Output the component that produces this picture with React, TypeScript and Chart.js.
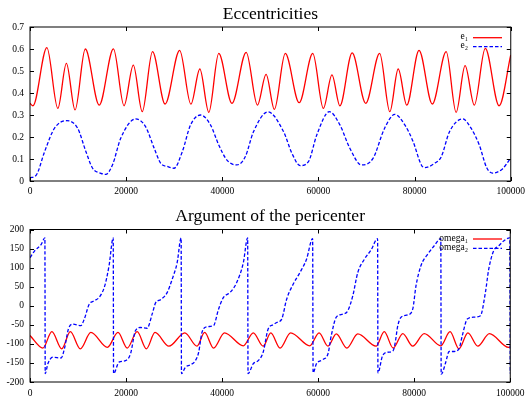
import { useEffect, useRef } from 'react';
import { Chart, registerables } from 'chart.js';

Chart.register(...registerables);

const FAMILY = "'Liberation Serif', 'Times New Roman', serif";

// ---------- tick labels ----------
const X_TICKS = [0, 20000, 40000, 60000, 80000, 100000];
const E_TICKS = [0, 0.1, 0.2, 0.3, 0.4, 0.5, 0.6, 0.7];
const W_TICKS = [-200, -150, -100, -50, 0, 50, 100, 150, 200];

// ---------- eccentricities ----------
const e1X = [0, 620, 3510, 5790, 7570, 9370, 11500, 14400, 17360, 19560, 21490, 23350, 25480, 28100, 31130, 33470, 35330, 37190, 39260, 42010, 44970, 47310, 49110, 50830, 53100, 55990, 58820, 61020, 62810, 64460, 67010, 69830, 72730, 74850, 76590, 78370, 80920, 83680, 86570, 88640, 90500, 92420, 94700, 97580, 100000];
const e1Y = [0.353, 0.342, 0.606, 0.33, 0.535, 0.323, 0.6, 0.345, 0.601, 0.342, 0.527, 0.315, 0.588, 0.35, 0.594, 0.349, 0.509, 0.312, 0.58, 0.353, 0.585, 0.345, 0.485, 0.326, 0.58, 0.356, 0.58, 0.33, 0.482, 0.342, 0.582, 0.353, 0.58, 0.315, 0.509, 0.345, 0.594, 0.35, 0.588, 0.312, 0.524, 0.345, 0.603, 0.342, 0.573];

const e2X = [0, 1300, 3030, 5100, 7640, 9900, 11640, 13020, 14740, 15770, 17150, 18870, 21970, 24040, 25830, 27200, 28580, 29960, 31680, 33400, 35470, 37540, 39260, 40980, 43040, 44770, 46490, 49500, 52750, 54480, 56200, 57920, 59650, 62260, 64460, 66530, 68940, 71350, 73760, 75900, 77960, 79690, 81400, 82090, 84150, 85540, 87260, 90020, 91740, 93450, 95000, 96200, 98280, 100000];
const e2Y = [0.015, 0.027, 0.133, 0.24, 0.274, 0.24, 0.133, 0.058, 0.035, 0.03, 0.073, 0.194, 0.282, 0.247, 0.149, 0.08, 0.066, 0.058, 0.133, 0.255, 0.3, 0.255, 0.164, 0.095, 0.073, 0.11, 0.224, 0.314, 0.224, 0.126, 0.07, 0.088, 0.209, 0.315, 0.255, 0.149, 0.073, 0.103, 0.24, 0.303, 0.255, 0.179, 0.073, 0.061, 0.08, 0.11, 0.224, 0.282, 0.24, 0.164, 0.06, 0.036, 0.055, 0.105];

// ---------- argument of the pericenter ----------
const w1X = [0, 2690, 4550, 6610, 8400, 10470, 12670, 16120, 18320, 20250, 22310, 24240, 26030, 28930, 32230, 34780, 36360, 38220, 40500, 44420, 46490, 48550, 50140, 52070, 54270, 58260, 60190, 62050, 63780, 65980, 68250, 72050, 73760, 75620, 77620, 79690, 82090, 85540, 87460, 89320, 91180, 93250, 95660, 99650, 100000];
const w1Y = [-78, -111, -68, -113, -68, -113, -70, -109, -70, -111, -68, -113, -70, -106, -71, -106, -70, -111, -71, -105, -71, -106, -71, -111, -71, -105, -71, -106, -74, -111, -74, -106, -68, -111, -73, -106, -73, -105, -68, -113, -71, -106, -73, -109, -108];

const w2X = [0, 970, 2340, 3100, 3170, 3720, 4750, 6470, 7160, 8000, 8880, 10600, 11300, 12330, 13360, 14400, 15560, 16460, 17330, 17400, 18530, 19900, 20930, 21970, 23000, 24380, 25480, 26170, 27200, 28580, 29610, 30640, 31470, 31540, 32370, 33400, 34440, 35120, 35810, 36840, 38220, 39260, 40290, 41670, 43040, 44420, 45320, 45400, 46490, 47520, 48550, 49590, 50620, 51380, 52410, 53440, 54820, 56200, 57580, 58850, 58950, 59650, 61020, 62050, 62740, 63780, 65150, 66180, 67210, 68250, 69630, 71010, 72380, 72450, 73410, 74440, 75600, 76000, 76590, 77270, 78650, 79690, 80370, 81400, 82790, 84150, 85540, 85620, 86570, 87260, 88290, 89320, 90020, 91050, 92420, 93800, 94830, 95520, 96550, 97580, 98620, 99900, 100000];
const w2Y = [126, 144, 161, 178, -178, -152, -135, -137, -113, -61, -48, -52, -35, 4, 13, 22, 52, 105, 178, -178, -148, -144, -126, -65, -57, -59, -20, 8, 16, 35, 70, 113, 178, -178, -161, -155, -144, -122, -70, -55, -52, -9, 22, 35, 61, 113, 178, -178, -152, -144, -122, -61, -50, -44, -35, 17, 57, 87, 122, 176, -176, -152, -141, -126, -78, -30, -22, -13, 26, 87, 122, 146, 176, -176, -131, -122, -118, -100, -52, -30, -24, -9, 52, 105, 135, 157, 176, -180, -148, -120, -120, -113, -78, -35, -30, -26, 35, 96, 144, 157, 170, 178, -178];

const pts = (xs: number[], ys: number[]) => xs.map((x, i) => ({ x, y: ys[i] }));

type PanelSpec = {
  height: number;
  areaTop: number;
  areaBottom: number;
  yMin: number;
  yMax: number;
  yTicks: number[];
  title: string;
  titleBaseline: number;
  xPad: number;
  legendRows: number[];
  datasets: any[];
};

function decor(spec: PanelSpec) {
  return {
    id: 'gnuplotDecor',
    afterDraw(chart: any) {
      const { ctx, chartArea } = chart;
      const { left, right, top, bottom } = chartArea;
      const xs = chart.scales.x;
      const ys = chart.scales.y;
      ctx.save();
      // frame
      ctx.strokeStyle = '#000';
      ctx.lineWidth = 1;
      ctx.setLineDash([]);
      ctx.strokeRect(left, top, right - left, bottom - top);
      // inward ticks on all four sides
      const tl = 4;
      ctx.beginPath();
      X_TICKS.forEach((v) => {
        const px = Math.round(xs.getPixelForValue(v)) + 0.5;
        ctx.moveTo(px, bottom);
        ctx.lineTo(px, bottom - tl);
        ctx.moveTo(px, top);
        ctx.lineTo(px, top + tl);
      });
      spec.yTicks.forEach((v) => {
        const py = Math.round(ys.getPixelForValue(v)) + 0.5;
        ctx.moveTo(left, py);
        ctx.lineTo(left + tl, py);
        ctx.moveTo(right, py);
        ctx.lineTo(right - tl, py);
      });
      ctx.stroke();
      // title
      ctx.fillStyle = '#000';
      ctx.font = `17.5px ${FAMILY}`;
      ctx.textAlign = 'center';
      ctx.textBaseline = 'alphabetic';
      ctx.fillText(spec.title, (left + right) / 2, spec.titleBaseline);
      // key
      chart.data.datasets.forEach((ds: any, i: number) => {
        const y = spec.legendRows[i];
        ctx.font = `9.5px ${FAMILY}`;
        ctx.textAlign = 'right';
        ctx.textBaseline = 'middle';
        ctx.fillStyle = '#000';
        ctx.fillText(ds.label, 468, y - 1);
        ctx.strokeStyle = ds.borderColor;
        ctx.lineWidth = 1.3;
        ctx.setLineDash(ds.borderDash || []);
        ctx.beginPath();
        ctx.moveTo(473, y);
        ctx.lineTo(502, y);
        ctx.stroke();
      });
      ctx.restore();
    },
  };
}

function Panel({ spec }: { spec: PanelSpec }) {
  const ref = useRef<HTMLCanvasElement | null>(null);
  useEffect(() => {
    if (!ref.current) return;
    const tickFont = { family: FAMILY, size: 9.5 };
    const chart = new Chart(ref.current, {
      type: 'line',
      data: { datasets: spec.datasets },
      options: {
        animation: false,
        responsive: false,
        devicePixelRatio: 1,
        layout: { padding: { left: 0, right: 16, top: spec.areaTop, bottom: 0 } },
        plugins: {
          legend: { display: false },
          title: { display: false },
          tooltip: { enabled: false },
        },
        elements: { point: { radius: 0 } },
        scales: {
          x: {
            type: 'linear',
            min: 0,
            max: 100000,
            afterBuildTicks: (s: any) => {
              s.ticks = X_TICKS.map((v) => ({ value: v }));
            },
            afterFit: (s: any) => {
              s.height = spec.height - spec.areaBottom;
            },
            grid: { display: false, drawTicks: false },
            border: { display: false },
            ticks: {
              padding: spec.xPad,
              font: tickFont,
              color: '#000',
              autoSkip: false,
              maxRotation: 0,
              callback: (v: any) => String(v),
            },
          },
          y: {
            type: 'linear',
            min: spec.yMin,
            max: spec.yMax,
            afterBuildTicks: (s: any) => {
              s.ticks = spec.yTicks.map((v) => ({ value: v }));
            },
            afterFit: (s: any) => {
              s.width = 30;
            },
            grid: { display: false, drawTicks: false },
            border: { display: false },
            ticks: {
              padding: 6,
              font: tickFont,
              color: '#000',
              autoSkip: false,
              callback: (v: any) => String(Number(Number(v).toFixed(1))),
            },
          },
        },
      } as any,
      plugins: [decor(spec)],
    });
    return () => chart.destroy();
  }, [spec]);
  return <canvas ref={ref} width={530} height={spec.height} style={{ display: 'block' }} />;
}

const lineBase = {
  pointRadius: 0,
  borderWidth: 1.3,
  cubicInterpolationMode: 'monotone',
  fill: false,
};

const topSpec: PanelSpec = {
  height: 200,
  areaTop: 27,
  areaBottom: 181,
  yMin: 0,
  yMax: 0.7,
  yTicks: E_TICKS,
  title: 'Eccentricities',
  titleBaseline: 19.3,
  xPad: 5,
  legendRows: [37.7, 46.7],
  datasets: [
    { ...lineBase, label: 'e₁', data: pts(e1X, e1Y), borderColor: '#ff0000', order: 1 },
    { ...lineBase, label: 'e₂', data: pts(e2X, e2Y), borderColor: '#0000ff', borderDash: [3.5, 2], order: 0 },
  ],
};

const bottomSpec: PanelSpec = {
  height: 197,
  areaTop: 29.5,
  areaBottom: 182,
  yMin: -200,
  yMax: 200,
  yTicks: W_TICKS,
  title: 'Argument of the pericenter',
  titleBaseline: 20.7,
  xPad: 5.5,
  legendRows: [39, 48.3],
  datasets: [
    { ...lineBase, label: 'omega₁', data: pts(w1X, w1Y), borderColor: '#ff0000', order: 1 },
    { ...lineBase, label: 'omega₂', data: pts(w2X, w2Y), borderColor: '#0000ff', borderDash: [3.5, 2], order: 0 },
  ],
};

export default function App() {
  return (
    <div style={{ position: 'absolute', left: 0, top: 0, width: 530, height: 397, background: '#fff' }}>
      <Panel spec={topSpec} />
      <Panel spec={bottomSpec} />
    </div>
  );
}
